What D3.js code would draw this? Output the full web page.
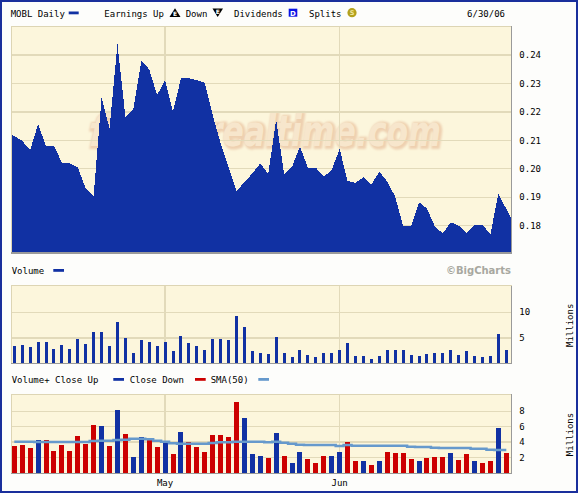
<!DOCTYPE html>
<html><head><meta charset="utf-8">
<script src="https://cdn.jsdelivr.net/npm/d3@7"></script>
<style>
html,body{margin:0;padding:0;background:#fdfdfb;}
svg text{font-family:"DejaVu Sans Mono",monospace;font-size:9px;fill:#000;}
</style>
</head><body><svg id="c" width="578" height="493"></svg>
<script>
// ---------------- DATA ----------------
const dates = ["4/3","4/4","4/5","4/6","4/7","4/10","4/11","4/12","4/13","4/17","4/18","4/19","4/20","4/21","4/24","4/25","4/26","4/27","4/28",
  "5/1","5/2","5/3","5/4","5/5","5/8","5/9","5/10","5/11","5/12","5/15","5/16","5/17","5/18","5/19","5/22","5/23","5/24","5/25","5/26","5/30","5/31",
  "6/1","6/2","6/5","6/6","6/7","6/8","6/9","6/12","6/13","6/14","6/15","6/16","6/19","6/20","6/21","6/22","6/23","6/26","6/27","6/28","6/29","6/30"];
const closes = [0.2122,0.2098,0.2066,0.2157,0.2080,0.2080,0.2022,0.2019,0.2005,0.1931,
  0.1904,0.2251,0.2142,0.2439,0.2183,0.2209,0.2379,0.2350,0.2259,0.2312,
  0.2201,0.2318,0.2318,0.2312,0.2303,0.2189,0.2090,0.2007,0.1923,0.1952,
  0.1984,0.2019,0.1982,0.2172,0.1982,0.2007,0.2078,0.2004,0.2004,0.1972,
  0.1996,0.2070,0.1957,0.1951,0.1970,0.1945,0.1990,0.1955,0.1902,0.1799,
  0.1797,0.1882,0.1861,0.1797,0.1773,0.1812,0.1800,0.1773,0.1802,0.1802,
  0.1771,0.1911,0.1824];
const volumes = [3.48,3.6,3.2,4.26,4.26,2.83,3.6,2.83,4.78,3.74,
  6.2,6.1,3.48,8.17,5.04,2.04,4.65,4.26,3.35,4.13,
  2.43,5.3,4.0,3.35,2.7,4.9,4.9,4.65,9.2,7.13,
  2.43,2.17,1.91,5.17,2.17,1.26,2.7,1.78,1.26,2.17,
  2.17,2.7,4.0,1.52,1.52,1.0,1.52,2.7,2.57,2.57,
  1.78,1.52,1.91,2.04,2.04,2.57,1.65,2.43,1.52,1.26,
  1.52,5.83,2.57];
const closeUp = [0,0,0,1,0,0,0,0,0,0, 0,1,0,1,0,1,1,0,0,1, 0,1,0,0,0,0,0,0,0,1,
  1,1,0,1,0,1,1,0,0,0, 1,1,0,0,1,0,1,0,0,0, 0,1,0,0,0,1,0,0,1,0, 0,1,0];
const sma50 = [4.04,4.04,4.04,4.0,4.0,4.0,4.0,4.0,4.0,4.0,
  4.13,4.17,4.17,4.26,4.3,4.43,4.43,4.35,4.17,4.04,
  3.83,3.78,3.78,3.78,3.78,3.87,3.96,3.96,4.04,4.04,
  4.04,4.04,3.96,4.04,3.91,3.78,3.65,3.6,3.6,3.6,
  3.6,3.48,3.62,3.52,3.52,3.52,3.52,3.52,3.52,3.52,
  3.39,3.35,3.35,3.26,3.22,3.22,3.22,3.22,3.13,3.13,
  2.98,2.96,2.96];
const priceTicks = [0.18,0.19,0.20,0.21,0.22,0.23,0.24];
const volTicks = [5,10];
const vol2Ticks = [2,4,6,8];
const monthTickDates = ["5/1","6/1"];
const monthLabels = ["May","Jun"];

// ---------------- LAYOUT ----------------
const L = 11, R = 511.7;
const P = {top:26, bottom:253};
const V = {top:285.7, bottom:363.7};
const B = {top:394.3, bottom:473.3};
const cream = "#fcf6dc", grid = "#e2daba", blue = "#1131a3", red = "#cc0000", smaC = "#6699cc";

const svg = d3.select("#c");
svg.append("rect").attr("width",578).attr("height",493).attr("fill","#fdfdfb");

const x = d3.scalePoint().domain(dates).range([14.3, 506.3]);
const yP = d3.scaleLinear().domain([0.1704, 0.2502]).range([P.bottom, P.top]);
const yV = d3.scaleLinear().domain([0, 15.17]).range([V.bottom, V.top]);
const yB = d3.scaleLinear().domain([0, 10.22]).range([472.7, B.top]);

function panelBg(p){
  svg.append("rect").attr("x",L).attr("y",p.top).attr("width",R-L).attr("height",p.bottom-p.top).attr("fill",cream);
}
function panelBorder(p){
  const g = svg.append("g").attr("shape-rendering","crispEdges");
  g.append("line").attr("x1",L).attr("x2",R).attr("y1",p.top).attr("y2",p.top).attr("stroke","#ddd5b4");
  g.append("line").attr("x1",L).attr("x2",L).attr("y1",p.top).attr("y2",p.bottom).attr("stroke","#ddd5b4");
  g.append("line").attr("x1",L).attr("x2",R+0.5).attr("y1",p.bottom).attr("y2",p.bottom).attr("stroke","#9a9a9a").attr("stroke-width",1.5);
  g.append("line").attr("x1",R).attr("x2",R).attr("y1",p.top).attr("y2",p.bottom).attr("stroke","#9a9a9a").attr("stroke-width",1.5);
}
function hGrid(p, ticks, y){
  svg.append("g").attr("shape-rendering","crispEdges").selectAll("line").data(ticks).join("line")
    .attr("x1",L).attr("x2",R).attr("y1",d=>y(d)).attr("y2",d=>y(d)).attr("stroke",grid).attr("stroke-width",1.2);
}
function vGrid(p){
  svg.append("g").attr("shape-rendering","crispEdges").selectAll("line").data(monthTickDates).join("line")
    .attr("x1",d=>x(d)).attr("x2",d=>x(d)).attr("y1",p.top).attr("y2",p.bottom).attr("stroke",grid).attr("stroke-width",1.2);
}
function yLabels(ticks, y, fmt){
  svg.append("g").selectAll("text").data(ticks).join("text")
    .attr("x",519.3).attr("y",d=>y(d)).attr("dy","0.35em").text(fmt);
}

// ---------------- HEADER ----------------
const hy = 16.5;
svg.append("text").attr("x",10.7).attr("y",hy).text("MOBL Daily");
svg.append("rect").attr("x",68.7).attr("y",11.5).attr("width",10).attr("height",2.8).attr("fill",blue);
svg.append("text").attr("x",104.3).attr("y",hy).text("Earnings Up");
svg.append("path").attr("d","M175,8.3 L180.5,17 L169.5,17 Z").attr("fill","#000");
svg.append("text").attr("x",175).attr("y",16.2).attr("text-anchor","middle")
  .style("font-family","DejaVu Sans").style("font-size","6px").style("font-weight","bold").style("fill","#fff").text("E");
svg.append("text").attr("x",185.7).attr("y",hy).text("Down");
svg.append("path").attr("d","M212.5,8.5 L223,8.5 L217.7,17 Z").attr("fill","#000");
svg.append("text").attr("x",217.7).attr("y",14.2).attr("text-anchor","middle")
  .style("font-family","DejaVu Sans").style("font-size","6px").style("font-weight","bold").style("fill","#fff").text("E");
svg.append("text").attr("x",234).attr("y",hy).text("Dividends");
svg.append("rect").attr("x",288.7).attr("y",8.7).attr("width",8.6).attr("height",8).attr("fill","#0a14e6");
svg.append("text").attr("x",293).attr("y",15.7).attr("text-anchor","middle")
  .style("font-family","DejaVu Sans").style("font-size","7px").style("font-weight","bold").style("fill","#fff").text("D");
svg.append("text").attr("x",309).attr("y",hy).text("Splits");
svg.append("circle").attr("cx",352).attr("cy",12.7).attr("r",4.6).attr("fill","#b3a11c");
svg.append("text").attr("x",352).attr("y",15.2).attr("text-anchor","middle")
  .style("font-family","DejaVu Sans").style("font-size","6.5px").style("font-weight","bold").style("fill","#f0e6a0").text("S");
svg.append("text").attr("x",505).attr("y",hy).attr("text-anchor","end").text("6/30/06");

// ---------------- PRICE PANEL ----------------
panelBg(P);
const defs = svg.append("defs");
defs.append("clipPath").attr("id","clipP").append("rect")
  .attr("x",L).attr("y",P.top).attr("width",R-L).attr("height",P.bottom-P.top);
defs.append("filter").attr("id","soft").attr("x","-10%").attr("y","-30%").attr("width","120%").attr("height","160%")
  .append("feGaussianBlur").attr("stdDeviation",1.3);
const wm = svg.append("g").attr("clip-path","url(#clipP)");
const wmParts = [{t:"free", x0:88, len:112}, {t:"realtime.com", x0:207, len:234}];
function wmText(g, style, dx){
  g.selectAll("text").data(wmParts).join("text")
    .attr("transform",d=>`translate(${d.x0+dx},${145.5+dx}) scale(1,1.39)`)
    .attr("x",0).attr("y",0).attr("textLength",d=>d.len).attr("lengthAdjust","spacingAndGlyphs")
    .style("font-family","DejaVu Sans").style("font-size","31px").style("font-weight","bold").style("font-style","italic")
    .each(function(){ const s=d3.select(this); for (const k in style) s.style(k, style[k]); })
    .text(d=>d.t);
}
wmText(wm.append("g").attr("filter","url(#soft)"),
  {fill:"#eed0b0", stroke:"#eed0b0", "stroke-width":"3px"}, 1.5);
wmText(wm.append("g"), {fill:"#f7e6cc", stroke:"none"}, 0);
hGrid(P, priceTicks, yP);
vGrid(P);
const n = closes.length;
const area = d3.area()
  .x((d,i)=> i===0 ? L : (i===n-1 ? R : x(dates[i])))
  .y0(P.bottom).y1(d=>yP(d));
svg.append("path").datum(closes).attr("d",area).attr("fill",blue).attr("shape-rendering","crispEdges");
panelBorder(P);
yLabels(priceTicks, yP, d3.format(".2f"));

// ---------------- VOLUME PANEL ----------------
svg.append("text").attr("x",11.7).attr("y",274).text("Volume");
svg.append("rect").attr("x",53.3).attr("y",269).attr("width",10.7).attr("height",2.8).attr("fill",blue);
svg.append("text").attr("x",511).attr("y",274.3).attr("text-anchor","end")
  .style("font-family","DejaVu Sans").style("font-size","10px").style("font-weight","bold").style("fill","#a8a8a0")
  .text("\u00A9BigCharts");
panelBg(V);
hGrid(V, volTicks, yV);
vGrid(V);
svg.append("g").attr("shape-rendering","crispEdges").selectAll("rect").data(volumes).join("rect")
  .attr("x",(d,i)=>x(dates[i])-1.5).attr("width",3)
  .attr("y",d=>yV(d)).attr("height",d=>V.bottom-yV(d)).attr("fill",blue);
panelBorder(V);
yLabels(volTicks, yV, d=>d);
svg.append("text").attr("transform","translate(569.5,325.3) rotate(-90)").attr("text-anchor","middle").attr("dy","0.35em").text("Millions");

// ---------------- VOLUME+ PANEL ----------------
const ly = 383;
svg.append("text").attr("x",11.7).attr("y",ly).text("Volume+ Close Up");
svg.append("rect").attr("x",113.3).attr("y",378).attr("width",10.7).attr("height",2.8).attr("fill",blue);
svg.append("text").attr("x",129.7).attr("y",ly).text("Close Down");
svg.append("rect").attr("x",195).attr("y",378).attr("width",10.7).attr("height",2.8).attr("fill",red);
svg.append("text").attr("x",210.7).attr("y",ly).text("SMA(50)");
svg.append("rect").attr("x",258.3).attr("y",378).attr("width",10.7).attr("height",2.8).attr("fill",smaC);
panelBg(B);
hGrid(B, vol2Ticks, yB);
vGrid(B);
svg.append("g").attr("shape-rendering","crispEdges").selectAll("rect").data(volumes).join("rect")
  .attr("x",(d,i)=>x(dates[i])-2.5).attr("width",5)
  .attr("y",d=>yB(d)).attr("height",d=>yB(0)-yB(d)).attr("fill",(d,i)=>closeUp[i]?blue:red);
svg.append("path").datum(sma50)
  .attr("d", d3.line().x((d,i)=>x(dates[i])).y(d=>yB(d)).curve(d3.curveStep))
  .attr("fill","none").attr("stroke",smaC).attr("stroke-width",2.5);
panelBorder(B);
yLabels(vol2Ticks, yB, d=>d);
svg.append("text").attr("transform","translate(569.5,434.5) rotate(-90)").attr("text-anchor","middle").attr("dy","0.35em").text("Millions");
svg.append("g").selectAll("text").data(monthTickDates).join("text")
  .attr("x",d=>x(d)).attr("y",483.3).attr("dy","0.35em").attr("text-anchor","middle")
  .text((d,i)=>monthLabels[i]);

// ---------------- OUTER FRAME ----------------
svg.append("rect").attr("x",1).attr("y",1).attr("width",576).attr("height",491)
  .attr("fill","none").attr("stroke","#1a2f9c").attr("stroke-width",2);
</script>
</body></html>
